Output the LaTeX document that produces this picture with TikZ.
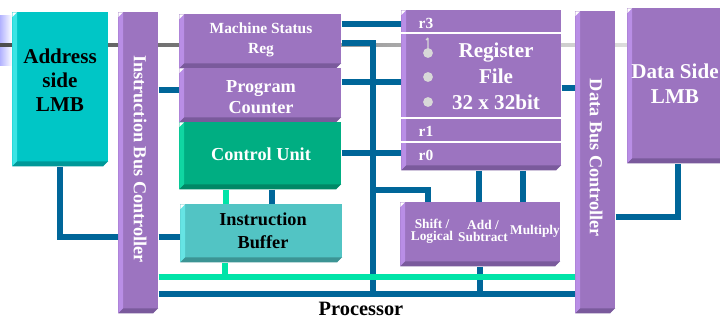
\documentclass[tikz,border=0pt]{standalone}
\usepackage{fontspec}
\setmainfont{Liberation Serif}
\usetikzlibrary{calc}
\pgfdeclarelayer{bg}
\pgfsetlayers{bg,main}

\definecolor{purp}{HTML}{9C74C0}
\definecolor{purpL}{HTML}{B98EE6}
\definecolor{purpD}{HTML}{7A5A9C}
\definecolor{cyanF}{HTML}{00C6C6}
\definecolor{cyanL}{HTML}{3CE4E4}
\definecolor{cyanD}{HTML}{009898}
\definecolor{cuF}{HTML}{00AE82}
\definecolor{cuL}{HTML}{10D6A2}
\definecolor{cuD}{HTML}{008866}
\definecolor{ibF}{HTML}{52C4C4}
\definecolor{ibL}{HTML}{66E4E4}
\definecolor{ibD}{HTML}{3C9494}
\definecolor{busblue}{HTML}{006699}
\definecolor{busgreen}{HTML}{00E4A8}
\definecolor{dots}{HTML}{D8D8D8}

\tikzset{
  blk/.style n args={3}{rectangle, inner sep=0pt, anchor=north west, fill=#1,
    path picture={
      \fill[#2] ([yshift=-3.5pt]path picture bounding box.north west) -- ([xshift=3.5pt]path picture bounding box.north west)
        -- ([shift={(3.5pt,3.5pt)}]path picture bounding box.south west) -- (path picture bounding box.south west) -- cycle;
      \fill[#3] (path picture bounding box.south west) -- ([shift={(3.5pt,3.5pt)}]path picture bounding box.south west)
        -- ([yshift=3.5pt]path picture bounding box.south east) -- ([xshift=-3.5pt]path picture bounding box.south east) -- cycle;
      \fill[white] (path picture bounding box.north west) -- ([xshift=3.5pt]path picture bounding box.north west)
        -- ([yshift=-3.5pt]path picture bounding box.north west) -- cycle;
      \fill[white] (path picture bounding box.south east) -- ([yshift=3.5pt]path picture bounding box.south east)
        -- ([xshift=-3.5pt]path picture bounding box.south east) -- cycle;
    }},
  purpbox/.style={blk={purp}{purpL}{purpD}},
  wtxt/.style={text=white, align=center, inner sep=0pt},
  ktxt/.style={text=black, align=center, inner sep=0pt},
  bus/.style={busblue, line width=4.2pt},
  gbus/.style={busgreen, line width=4.2pt},
  rule/.style={white, line width=2pt},
}

\begin{document}
\begin{tikzpicture}[x=0.025cm, y=-0.025cm]
  \useasboundingbox (0,0) rectangle (720,320);
  \clip (0,0) rectangle (720,320);

  \node[blk={cyanF}{cyanL}{cyanD}, minimum width=2.4cm, minimum height=3.85cm] (addr) at (12,12) {};
  \node[purpbox, minimum width=1cm, minimum height=7.525cm] (ibc) at (118,12) {};
  \node[purpbox, minimum width=4.05cm, minimum height=1.35cm] (msr) at (179,14) {};
  \node[purpbox, minimum width=4.05cm, minimum height=1.35cm] (pc) at (179,68) {};
  \node[blk={cuF}{cuL}{cuD}, minimum width=4.05cm, minimum height=1.675cm] (cu) at (179,122) {};
  \node[blk={ibF}{ibL}{ibD}, minimum width=4.05cm, minimum height=1.45cm] (ib) at (180,204) {};
  \node[purpbox, minimum width=4cm, minimum height=4cm] (rf) at (401,10) {};
  \node[purpbox, minimum width=4cm, minimum height=1.6cm] (alu) at (400,202) {};
  \node[purpbox, minimum width=1cm, minimum height=7.55cm] (dbc) at (575,11) {};
  \node[purpbox, minimum width=2.45cm, minimum height=3.875cm] (dlmb) at (627,8) {};

  \begin{pgfonlayer}{bg}
    \fill[left color=blue!30!white, right color=white] (0,16) rectangle (12,66);
    \shade[left color=black!70, right color=black!5] (0,43.5) rectangle (720,46.5);
    \draw[bus] (addr.south) |- (ibc.west |- 0,237);
    \draw[bus] (ibc.east |- 0,237) -- (ib.west |- 0,237);
    \draw[bus] (ibc.east |- 0,90) -- (pc.west |- 0,90);
    \draw[bus] (msr.east |- 0,24) -- (rf.west |- 0,24);
    \draw[bus] (msr.east |- 0,43) -| (373,294);
    \draw[bus] (pc.east |- 0,82) -- (rf.west |- 0,82);
    \draw[bus] (cu.east |- 0,153) -- (rf.west |- 0,153);
    \draw[bus] (373,190) -| (alu.north -| 428,0);
    \draw[bus] (rf.south -| 479,0) -- (alu.north -| 479,0);
    \draw[bus] (rf.south -| 523,0) -- (alu.north -| 523,0);
    \draw[bus] (alu.south -| 480,0) -- (480,294);
    \draw[bus] (cu.south -| 272,0) -- (ib.north -| 272,0);
    \draw[gbus] (cu.south -| 226,0) -- (ib.north -| 226,0);
    \draw[gbus] (ib.south -| 225,0) -- (225,277);
    \draw[gbus] (ibc.east |- 0,277) -- (dbc.west |- 0,277);
    \draw[bus] (ibc.east |- 0,294) -- (dbc.west |- 0,294);
    \draw[bus] (rf.east |- 0,88) -- (dbc.west |- 0,88);
    \draw[bus] (dbc.east |- 0,217) -| (dlmb.south -| 678,0);
  \end{pgfonlayer}

  \node[ktxt, font=\fontsize{15}{17}\selectfont\bfseries] (addrtxt) at (60,80) {Address\\side\\LMB};
  \node[wtxt, rotate=-90, font=\fontsize{13}{15}\selectfont\bfseries] (ibctxt) at (140,159) {Instruction Bus Controller};
  \node[wtxt, font=\fontsize{11}{14}\selectfont\bfseries] (msrtxt) at (261,40) {Machine Status\\Reg};
  \node[wtxt, font=\fontsize{13}{15}\selectfont\bfseries] (pctxt) at (261,97) {Program\\Counter};
  \node[wtxt, font=\fontsize{13}{15}\selectfont\bfseries] (cutxt) at (261,154) {Control Unit};
  \node[ktxt, font=\fontsize{13}{16.5}\selectfont\bfseries] (ibtxt) at (263,231) {Instruction\\Buffer};

  \node[wtxt, font=\fontsize{11}{13}\selectfont\bfseries] (r3) at (426,23) {r3};
  \node[wtxt, font=\fontsize{11}{13}\selectfont\bfseries] (r1) at (426,131) {r1};
  \node[wtxt, font=\fontsize{11}{13}\selectfont\bfseries] (r0) at (426,155) {r0};
  \draw[rule] (rf.west |- 0,33) -- (rf.east |- 0,33);
  \draw[rule] (rf.west |- 0,118) -- (rf.east |- 0,118);
  \draw[rule] (rf.west |- 0,142) -- (rf.east |- 0,142);
  \draw[dots, line width=1pt] (428,38) -- (428,50) (428,38) -- (426,40);
  \fill[dots] (428,53) circle (3.5pt);
  \fill[dots] (428,77) circle (3.5pt);
  \fill[dots] (428,102) circle (3.5pt);
  \node[wtxt, font=\fontsize{15}{18.5}\selectfont\bfseries] (rftxt) at (496,76) {Register\\File\\32 x 32bit};

  \node[wtxt, font=\fontsize{9.5}{8.5}\selectfont\bfseries] (shtxt) at (432,231) {Shift /\\Logical};
  \node[wtxt, font=\fontsize{9.5}{8.5}\selectfont\bfseries] (addtxt) at (483,231) {Add /\\Subtract};
  \node[wtxt, font=\fontsize{9.5}{8.5}\selectfont\bfseries] (multxt) at (535,231) {Multiply};

  \node[wtxt, rotate=-90, font=\fontsize{13}{15}\selectfont\bfseries] (dbctxt) at (596,158) {Data Bus Controller};
  \node[wtxt, font=\fontsize{15}{18}\selectfont\bfseries] (dlmbtxt) at (675,84) {Data Side\\LMB};

  \node[ktxt, font=\fontsize{14.5}{16}\selectfont\bfseries] (proc) at (361,309) {Processor};
\end{tikzpicture}
\end{document}
